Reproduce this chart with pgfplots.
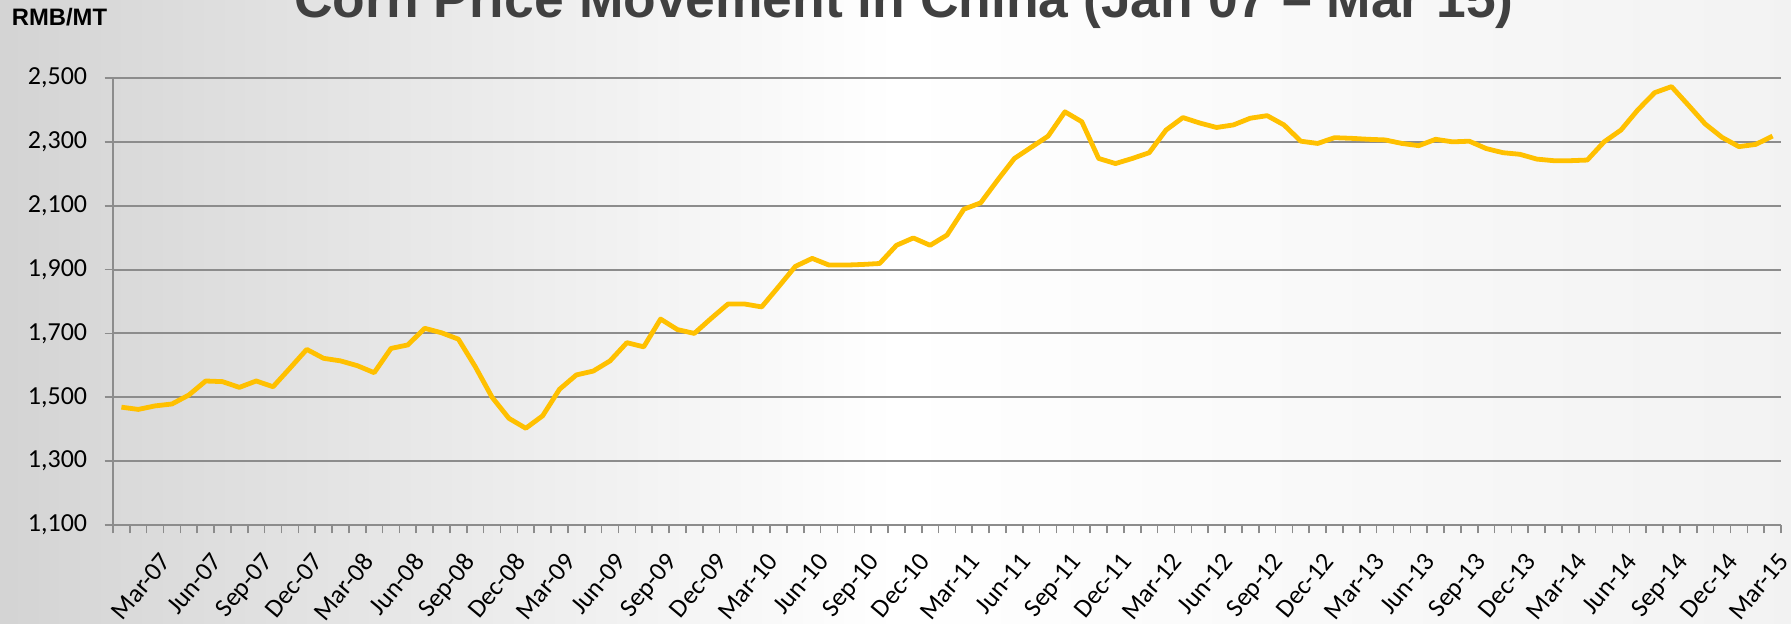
\documentclass[border=0pt]{standalone}
\usepackage{fontspec}
\setmainfont{Carlito}
\newfontfamily\arial{Liberation Sans}
\usepackage{pgfplots}
\pgfplotsset{compat=1.18}
\definecolor{gridgray}{HTML}{8C8C8C}
\definecolor{corn}{HTML}{FFC000}
\definecolor{titlegray}{HTML}{404040}
\begin{document}
\begin{tikzpicture}[x=1pt,y=1pt]
\useasboundingbox (0,0) rectangle (895.5,312);
\begin{scope}
\clip (0,0) rectangle (895.5,312);
\shade[left color=black!17, right color=black!5, middle color=white] (0,0) rectangle (895.5,312);
\begin{axis}[
  at={(56.5pt,49.5pt)}, anchor=south west,
  scale only axis, width=834pt, height=223.5pt,
  xmin=0.5, xmax=99.5, ymin=1100, ymax=2500,
  ytick={1100,1300,...,2500},
  xtick={0.5,1.5,...,99.5}, xticklabels={},
  extra x ticks={3,6,...,99},
  extra x tick labels={Mar-07,Jun-07,Sep-07,Dec-07,Mar-08,Jun-08,Sep-08,Dec-08,Mar-09,Jun-09,Sep-09,Dec-09,Mar-10,Jun-10,Sep-10,Dec-10,Mar-11,Jun-11,Sep-11,Dec-11,Mar-12,Jun-12,Sep-12,Dec-12,Mar-13,Jun-13,Sep-13,Dec-13,Mar-14,Jun-14,Sep-14,Dec-14,Mar-15},
  extra x tick style={tick style={draw=none}},
  axis x line*=bottom, axis y line*=left,
  axis line style={-, gridgray, line width=1pt},
  tick style={gridgray, line width=0.8pt},
  tick align=outside, major tick length=4.25pt,
  ymajorgrids, major grid style={gridgray, line width=1pt},
  /pgf/number format/assume math mode=true,
  /pgf/number format/1000 sep={,},
  tick label style={font=\fontsize{13}{15}\selectfont, inner sep=0pt},
  yticklabel style={anchor=east, xshift=-8.5pt},
  xticklabel style={rotate=50, anchor=north east, xshift=-5.25pt, yshift=-7.25pt},
]
\addplot[corn, line width=2.4pt, line join=round] coordinates {
(1,1469)(2,1462)(3,1473)(4,1479)(5,1507)(6,1551)(7,1549)(8,1531)(9,1551)(10,1533)
(11,1591)(12,1650)(13,1622)(14,1614)(15,1599)(16,1577)(17,1653)(18,1664)(19,1716)(20,1702)
(21,1682)(22,1596)(23,1500)(24,1434)(25,1403)(26,1442)(27,1525)(28,1570)(29,1582)(30,1614)
(31,1671)(32,1658)(33,1745)(34,1712)(35,1700)(36,1747)(37,1792)(38,1792)(39,1783)(40,1846)
(41,1910)(42,1935)(43,1914)(44,1914)(45,1916)(46,1919)(47,1976)(48,1999)(49,1976)(50,2008)
(51,2089)(52,2109)(53,2180)(54,2248)(55,2283)(56,2318)(57,2394)(58,2363)(59,2248)(60,2232)
(61,2248)(62,2266)(63,2337)(64,2376)(65,2359)(66,2345)(67,2353)(68,2374)(69,2382)(70,2353)
(71,2302)(72,2295)(73,2313)(74,2311)(75,2308)(76,2306)(77,2295)(78,2288)(79,2308)(80,2300)
(81,2302)(82,2279)(83,2266)(84,2261)(85,2246)(86,2241)(87,2241)(88,2243)(89,2300)(90,2337)
(91,2400)(92,2454)(93,2473)(94,2415)(95,2356)(96,2314)(97,2285)(98,2292)(99,2318)
};
\end{axis}
\node[font=\arial\bfseries\fontsize{26.7}{30}\selectfont, text=titlegray, anchor=base] at (452,303) {Corn Price Movement in China (Jan 07 – Mar 15)};
\node[font=\arial\bfseries\fontsize{11.9}{14}\selectfont, anchor=base west, inner sep=0pt] at (5.75,299) {RMB/MT};
\end{scope}
\end{tikzpicture}
\end{document}
